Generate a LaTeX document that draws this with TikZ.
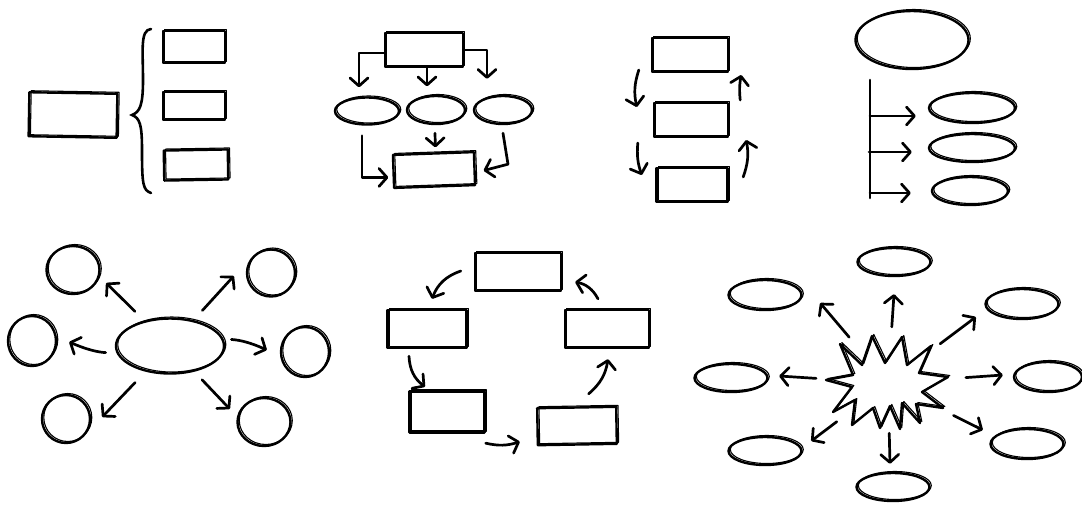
\documentclass[tikz,border=0pt]{standalone}
\usetikzlibrary{arrows.meta,shapes.geometric}
\begin{document}
\begin{tikzpicture}[x=1pt,y=-1pt,
  sk/.style={draw, line width=2.4pt, inner sep=0pt, line join=round,
     postaction={draw, line width=1.1pt, transform canvas={xshift=1.8pt,yshift=1.5pt}}},
  rbox/.style={sk, rectangle},
  ell/.style={sk, ellipse},
  arr/.style={line width=2.7pt, line cap=round, line join=round, -{Straight Barb[length=8pt,width=18pt,round]}},
  ln/.style={line width=2.6pt, line cap=round}]
\useasboundingbox (0,0) rectangle (1082,507);

% ---------- diagram 1: brace
\node[rbox, minimum width=88, minimum height=44, rotate=-1] (a0) at (73,115) {};
\node[rbox, minimum width=62, minimum height=32] (a1) at (194,47) {};
\node[rbox, minimum width=62, minimum height=28] (a2) at (194,106) {};
\node[rbox, minimum width=64, minimum height=30, rotate=1] (a3) at (196,165) {};
\draw[ln] (151,29) .. controls (140,30) and (143,50) .. (143,80)
  .. controls (143,105) and (140,112) .. (132,115)
  .. controls (140,118) and (142,125) .. (142,150)
  .. controls (142,185) and (143,190) .. (151,193);

% ---------- diagram 2: hierarchy
\node[rbox, minimum width=78, minimum height=34] (t2) at (424,50) {};
\node[ell, minimum width=64, minimum height=27] (e1) at (367,111) {};
\node[ell, minimum width=58, minimum height=28] (e2) at (436,110) {};
\node[ell, minimum width=58, minimum height=28] (e3) at (503,110) {};
\node[rbox, minimum width=81, minimum height=33, rotate=2] (b2) at (434,170) {};
\draw[arr, shorten >=9pt] ([yshift=-3pt]t2.west) -| ([xshift=-8pt]e1.north);
\draw[arr] ([xshift=3pt]t2.south) -- ([xshift=-9pt,yshift=8.5pt]e2.north);
\draw[arr] (t2.east) -| ([xshift=-16pt,yshift=16pt]e3.north);
\draw[arr] ([xshift=-5pt,yshift=-10pt]e1.south) |- ([xshift=-4pt,yshift=-6pt]b2.west);
\draw[arr] ([xshift=-1pt,yshift=-8pt]e2.south) -- ([xshift=2pt,yshift=5pt]b2.north);
\draw[arr] ([yshift=-8pt]e3.south) -- ++(5,31) -- ([xshift=8pt,yshift=-2pt]b2.east);

% ---------- diagram 3: cycle of three
\node[rbox, minimum width=76, minimum height=34] (r1) at (690,55) {};
\node[rbox, minimum width=74, minimum height=34] (r2) at (691,120) {};
\node[rbox, minimum width=71, minimum height=34] (r3) at (692,185) {};
\draw[arr] ([xshift=-12pt,yshift=-15pt]r1.west) to[bend right=15] ([xshift=-16pt,yshift=13pt]r2.west);
\draw[arr] ([xshift=-15pt,yshift=-23pt]r2.west) to[bend right=12] ([xshift=-13.5pt,yshift=10pt]r3.west);
\draw[arr] ([xshift=11pt,yshift=20pt]r2.east) to[bend left=8] ([xshift=12pt,yshift=-20pt]r1.east);
\draw[arr] ([xshift=14.5pt,yshift=8pt]r3.east) to[bend right=15] ([xshift=17pt,yshift=-20pt]r2.east);

% ---------- diagram 4: tree
\node[ell, minimum width=113, minimum height=58] (o4) at (912,40) {};
\node[ell, minimum width=86, minimum height=30] (f1) at (972,108) {};
\node[ell, minimum width=86, minimum height=28] (f2) at (972,148) {};
\node[ell, minimum width=76, minimum height=28] (f3) at (970,191) {};
\coordinate (vt) at (870,80);
\coordinate (vb) at (870,198);
\coordinate (h1) at (870,116);
\coordinate (h2) at (869,152);
\coordinate (h3) at (870,193);
\draw[ln] (vt) -- (vb);
\draw[arr, shorten >=12pt] (h1) -- (h1 -| f1.west);
\draw[arr, shorten >=16pt] (h2) -- (h2 -| f2.west);
\draw[arr, shorten >=20pt] (h3) -- (h3 -| f3.west);

% ---------- diagram 5: mind map
\node[ell, minimum width=108, minimum height=55] (cen) at (170,346) {};
\node[ell, minimum width=53, minimum height=48] (c1) at (73,270) {};
\node[ell, minimum width=48, minimum height=47] (c2) at (271,273) {};
\node[ell, minimum width=48, minimum height=50] (c3) at (32,341) {};
\node[ell, minimum width=48, minimum height=50] (c4) at (305,352) {};
\node[ell, minimum width=48, minimum height=48] (c5) at (66,419) {};
\node[ell, minimum width=53, minimum height=48] (c6) at (264,422) {};
\draw[arr, shorten <=13pt] (cen) -- ([xshift=5.5pt,yshift=-13pt]c1.east);
\draw[arr, shorten <=13pt] (cen) -- ([xshift=-12pt,yshift=-3pt]c2.west);
\draw[arr, shorten <=11pt] (cen) to[bend left=10] ([xshift=12pt,yshift=-1pt]c3.east);
\draw[arr, shorten <=8pt] (cen) to[bend left=10] ([xshift=-13pt,yshift=2pt]c4.west);
\draw[arr, shorten <=15pt] (cen) -- ([xshift=11pt,yshift=2pt]c5.east);
\draw[arr, shorten <=11pt] (cen) -- ([xshift=-6.5pt,yshift=13pt]c6.west);

% ---------- diagram 6: cycle of five
\node[rbox, minimum width=86, minimum height=38] (q1) at (518,272) {};
\node[rbox, minimum width=79, minimum height=38] (q2) at (427,329) {};
\node[rbox, minimum width=84, minimum height=38] (q3) at (607,329) {};
\node[rbox, minimum width=75, minimum height=41] (q4) at (447,412) {};
\node[rbox, minimum width=79, minimum height=37, rotate=1] (q5) at (577,426) {};
\draw[arr] ([xshift=-13pt,yshift=1pt]q1.west) to[bend right=25] ([xshift=5pt,yshift=10pt]q2.north);
\draw[arr] ([xshift=-18pt,yshift=-7pt]q2.south) to[bend right=25] ([xshift=-22pt,yshift=3.5pt]q4.north);
\draw[arr] ([yshift=-9.5pt]q4.south east) to[bend right=15] ([xshift=-16.5pt,yshift=-15pt]q5.west);
\draw[arr] ([xshift=12pt,yshift=12.5pt]q5.north) to[bend right=20] ([xshift=1pt,yshift=-10pt]q3.south);
\draw[arr] ([xshift=-9pt,yshift=10pt]q3.north) to[bend right=25] ([xshift=13pt,yshift=-10pt]q1.east);

% ---------- diagram 7: starburst
\node[ellipse, inner sep=0pt, minimum width=122, minimum height=92] (st) at (888,383) {};
\draw[sk] (840,344) -- (862,365) -- (872,336) -- (885,363) -- (902,337) -- (907,365)
  -- (931,346) -- (919,373) -- (948,377) -- (922,392) -- (943,408) -- (916,404)
  -- (920,423) -- (902,403) -- (900,429) -- (890,406) -- (880,428) -- (873,408)
  -- (852,425) -- (855,400) -- (833,412) -- (852,387) -- (826,380) -- (853,375) -- cycle;
\node[ell, minimum width=73, minimum height=28] (s1) at (894,262) {};
\node[ell, minimum width=73, minimum height=30] (s2) at (765,295) {};
\node[ell, minimum width=73, minimum height=30] (s3) at (1022,304) {};
\node[ell, minimum width=73, minimum height=28] (s4) at (731,378) {};
\node[ell, minimum width=68, minimum height=30] (s5) at (1048,377) {};
\node[ell, minimum width=73, minimum height=28] (s6) at (765,451) {};
\node[ell, minimum width=73, minimum height=30] (s7) at (1027,444) {};
\node[ell, minimum width=73, minimum height=28] (s8) at (893,487) {};
\draw[arr, shorten <=10pt] (st) -- ([yshift=-17pt]s1.south);
\draw[arr, shorten <=9pt] (st) -- ([xshift=17.5pt,yshift=-8pt]s2.east);
\draw[arr, shorten <=11pt] (st) -- ([xshift=-8.5pt,yshift=-13pt]s3.west);
\draw[arr, shorten <=11pt] (st) -- ([xshift=10.5pt,yshift=2pt]s4.east);
\draw[arr, shorten <=17pt] (st) -- ([xshift=-10pt,yshift=2pt]s5.west);
\draw[arr, shorten <=10pt] (st) -- ([xshift=8.5pt,yshift=10pt]s6.east);
\draw[arr, shorten <=16pt] (st) -- ([xshift=-6.5pt,yshift=14pt]s7.west);
\draw[arr, shorten <=4pt] (st) -- ([xshift=-3pt,yshift=8pt]s8.north);
\end{tikzpicture}
\end{document}
